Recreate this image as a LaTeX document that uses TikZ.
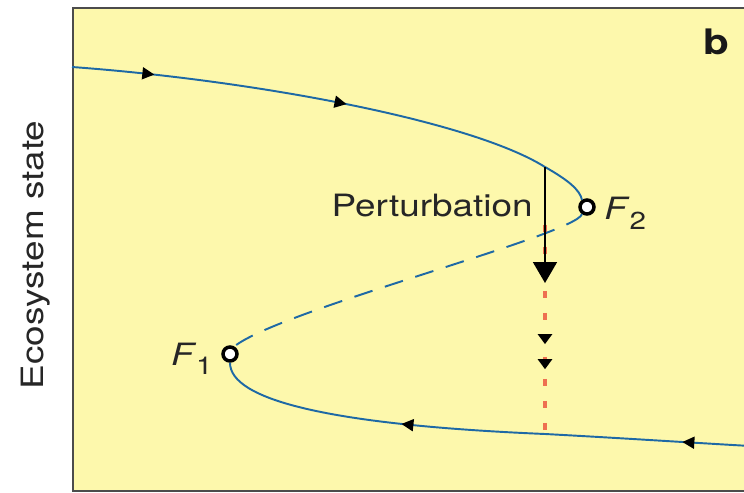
\documentclass[tikz,border=0pt]{standalone}
\usepackage{fontspec}
\setmainfont[FakeStretch=1.2]{TeX Gyre Heros}
\usetikzlibrary{arrows.meta, decorations.markings, positioning}

\definecolor{panelyellow}{RGB}{253,248,172}
\definecolor{branchblue}{RGB}{30,105,165}
\definecolor{pertred}{RGB}{238,112,80}

\newcommand{\fixlabel}[1]{\textit{F}\raisebox{-0.2cm}{\fontsize{14}{16}\selectfont #1}}

\begin{document}
\begin{tikzpicture}[
    x=0.02cm, y=-0.02cm,
    branch/.style={draw=branchblue, line width=1.1pt},
    flowarrow/.style={postaction={decorate, decoration={markings, mark=at position #1 with {\arrow[black]{Triangle[length=0.24cm, width=0.24cm]}}}}},
    droparrow/.style={postaction={decorate, decoration={markings, mark=at position #1 with {\arrow[black]{Triangle[length=0.2cm, width=0.28cm]}}}}},
    fixpoint/.style={draw=black, circle, fill=white, line width=2pt, minimum size=0.28cm, inner sep=0pt},
    txt/.style={font=\fontsize{17.5}{21}\selectfont, text=black!85, inner sep=0pt}
]

    \useasboundingbox (0,0) rectangle (744,493);
    \clip (0,0) rectangle (744,493);

    % ================= PANEL =================
    \fill[panelyellow] (73,8) rectangle (760,491);
    \draw[black!70, line width=1.4pt] (760,8) -- (73,8) -- (73,491) -- (760,491);

    % ================= FOLD POINTS =================
    \node[fixpoint] (F2) at (587,207) {};
    \node[fixpoint] (F1) at (230,354) {};

    \coordinate (topstart) at (72,67);
    \coordinate (hit) at (545,167);
    \coordinate (pushend) at (545,283);
    \coordinate (dropstart) at (545,225);
    \coordinate (land) at (545,434);
    \coordinate (botend) at (750,446);

    % ================= PERTURBATION DROP =================
    \draw[pertred, line width=2pt, dash pattern=on 0.14cm off 0.3cm, droparrow=0.57, droparrow=0.69] (dropstart) -- (land);

    % ================= BRANCHES =================
    % upper stable branch
    \draw[branch, flowarrow=0.17, flowarrow=0.57] (topstart) .. controls (250,80) and (470,120) .. (hit);
    \draw[branch] (hit) .. controls (568,180) and (580,190) .. (F2.125);

    % unstable branch
    \draw[branch, dash pattern=on 0.38cm off 0.26cm] (F2.235) .. controls (575,235) and (280,310) .. (F1.60);

    % lower stable branch
    \draw[branch, flowarrow=0.33] (botend) .. controls (680,442) and (620,438) .. (land);
    \draw[branch, flowarrow=0.43] (land) .. controls (330,425) and (230,400) .. (F1.south);

    % ================= PERTURBATION ARROW =================
    \draw[black, line width=1pt, -{Triangle[length=0.42cm, width=0.48cm]}] (hit) -- (pushend);

    % ================= LABELS =================
    \node[txt, anchor=east] (pertlabel) at (533,206) {Perturbation};
    \node[txt, anchor=base west] (F2label) at (604,220) {\fixlabel{2}};
    \node[txt, anchor=base east] (F1label) at (213,365) {\fixlabel{1}};
    \node[txt, anchor=base, rotate=90] (ylabel) at (43,255) {Ecosystem state};
    \node[font=\fontsize{20}{24}\selectfont\bfseries, text=black!90, inner sep=0pt] (panel) at (716,42) {b};

\end{tikzpicture}
\end{document}
